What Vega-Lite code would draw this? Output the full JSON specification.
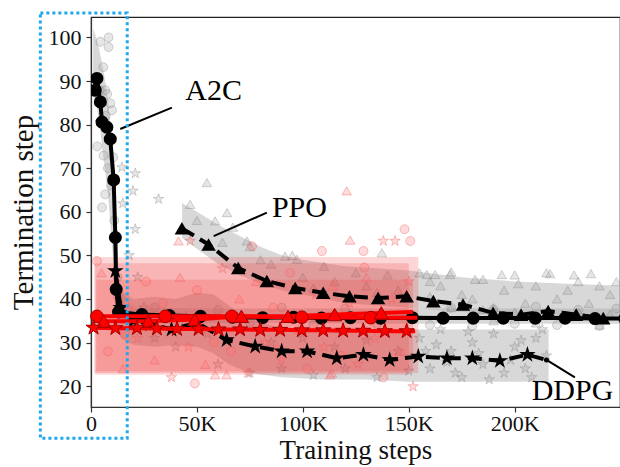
{
  "$schema": "https://vega.github.io/schema/vega-lite/v6.json",
  "width": 529,
  "height": 390,
  "autosize": {"type": "none"},
  "padding": {"left": 91, "top": 17, "right": 0, "bottom": 60},
  "background": "white",
  "config": {
    "view": {"stroke": "#222", "strokeWidth": 1.2},
    "axis": {
      "labelFont": "Liberation Serif", "labelFontSize": 22, "labelColor": "#111",
      "titleFont": "Liberation Serif", "titleFontSize": 29, "titleFontWeight": "normal", "titleColor": "#111",
      "domainColor": "#333", "domainWidth": 1.2, "tickColor": "#333", "tickSize": 5, "tickWidth": 1.2, "grid": false
    }
  },
  "datasets": {
    "bands": [
      {"alg": "A2C", "x": 1000, "y": 102, "y2": 87},
      {"alg": "A2C", "x": 2500, "y": 100, "y2": 85},
      {"alg": "A2C", "x": 4000, "y": 97, "y2": 80},
      {"alg": "A2C", "x": 6000, "y": 92, "y2": 72},
      {"alg": "A2C", "x": 8000, "y": 86, "y2": 64},
      {"alg": "A2C", "x": 10000, "y": 76, "y2": 52},
      {"alg": "A2C", "x": 11500, "y": 62, "y2": 42},
      {"alg": "A2C", "x": 13000, "y": 46, "y2": 36},
      {"alg": "A2C", "x": 15000, "y": 39, "y2": 35},
      {"alg": "A2C", "x": 20000, "y": 38, "y2": 35},
      {"alg": "A2C", "x": 60000, "y": 37.8, "y2": 34.5},
      {"alg": "A2C", "x": 150000, "y": 37.8, "y2": 34.3},
      {"alg": "A2C", "x": 252000, "y": 37.8, "y2": 34.3},
      {"alg": "PPO", "x": 43000, "y": 62, "y2": 54},
      {"alg": "PPO", "x": 50000, "y": 60, "y2": 51.5},
      {"alg": "PPO", "x": 60000, "y": 57, "y2": 48},
      {"alg": "PPO", "x": 70000, "y": 54.5, "y2": 45.5},
      {"alg": "PPO", "x": 80000, "y": 52, "y2": 43.5},
      {"alg": "PPO", "x": 90000, "y": 50, "y2": 42},
      {"alg": "PPO", "x": 100000, "y": 49, "y2": 41},
      {"alg": "PPO", "x": 120000, "y": 47.5, "y2": 39},
      {"alg": "PPO", "x": 150000, "y": 46.5, "y2": 38},
      {"alg": "PPO", "x": 175000, "y": 45, "y2": 37},
      {"alg": "PPO", "x": 200000, "y": 44, "y2": 36},
      {"alg": "PPO", "x": 225000, "y": 43.5, "y2": 35.5},
      {"alg": "PPO", "x": 252000, "y": 43, "y2": 35},
      {"alg": "DDPG", "x": 11500, "y": 48, "y2": 38},
      {"alg": "DDPG", "x": 14000, "y": 42, "y2": 31},
      {"alg": "DDPG", "x": 20000, "y": 40, "y2": 29.5},
      {"alg": "DDPG", "x": 30000, "y": 40.5, "y2": 29},
      {"alg": "DDPG", "x": 40000, "y": 40, "y2": 29.5},
      {"alg": "DDPG", "x": 50000, "y": 41.5, "y2": 29},
      {"alg": "DDPG", "x": 58000, "y": 41, "y2": 27.5},
      {"alg": "DDPG", "x": 65000, "y": 38.5, "y2": 25},
      {"alg": "DDPG", "x": 75000, "y": 35, "y2": 23},
      {"alg": "DDPG", "x": 90000, "y": 33.5, "y2": 22},
      {"alg": "DDPG", "x": 110000, "y": 33, "y2": 21.5},
      {"alg": "DDPG", "x": 130000, "y": 33, "y2": 21.5},
      {"alg": "DDPG", "x": 150000, "y": 33, "y2": 21},
      {"alg": "DDPG", "x": 180000, "y": 33, "y2": 21},
      {"alg": "DDPG", "x": 216000, "y": 33, "y2": 21}
    ],
    "redrects": [
      {"x": 1500, "x2": 154500, "y": 49.6, "y2": 23},
      {"x": 2000, "x2": 150000, "y": 48.2, "y2": 22.6},
      {"x": 2500, "x2": 152000, "y": 44.4, "y2": 23.4}
    ],
    "lines": [
      {"alg": "A2C", "x": 2000, "y": 87.9},
      {"alg": "A2C", "x": 2800, "y": 90.6},
      {"alg": "A2C", "x": 4400, "y": 85.2},
      {"alg": "A2C", "x": 5200, "y": 80.6},
      {"alg": "A2C", "x": 7500, "y": 79.4},
      {"alg": "A2C", "x": 9100, "y": 76.7},
      {"alg": "A2C", "x": 10700, "y": 67.3},
      {"alg": "A2C", "x": 11500, "y": 54.1},
      {"alg": "A2C", "x": 11900, "y": 42.2},
      {"alg": "A2C", "x": 13000, "y": 37},
      {"alg": "A2C", "x": 24000, "y": 36.4},
      {"alg": "A2C", "x": 37000, "y": 36.2},
      {"alg": "A2C", "x": 51700, "y": 36},
      {"alg": "A2C", "x": 66800, "y": 35.8},
      {"alg": "A2C", "x": 81000, "y": 35.7},
      {"alg": "A2C", "x": 95600, "y": 35.8},
      {"alg": "A2C", "x": 108800, "y": 35.6},
      {"alg": "A2C", "x": 122500, "y": 35.7},
      {"alg": "A2C", "x": 136600, "y": 35.6},
      {"alg": "A2C", "x": 151700, "y": 35.7},
      {"alg": "A2C", "x": 166200, "y": 35.6},
      {"alg": "A2C", "x": 180400, "y": 35.6},
      {"alg": "A2C", "x": 194600, "y": 35.6},
      {"alg": "A2C", "x": 209700, "y": 35.6},
      {"alg": "A2C", "x": 223800, "y": 35.6},
      {"alg": "A2C", "x": 237900, "y": 35.5},
      {"alg": "A2C", "x": 252000, "y": 35.5},
      {"alg": "PPO", "x": 42900, "y": 56.2},
      {"alg": "PPO", "x": 55500, "y": 52.5},
      {"alg": "PPO", "x": 69500, "y": 47.1},
      {"alg": "PPO", "x": 83000, "y": 44.1},
      {"alg": "PPO", "x": 96400, "y": 42.5},
      {"alg": "PPO", "x": 109600, "y": 41.4},
      {"alg": "PPO", "x": 122000, "y": 40.6},
      {"alg": "PPO", "x": 135500, "y": 40.2},
      {"alg": "PPO", "x": 149000, "y": 40.6},
      {"alg": "PPO", "x": 161600, "y": 39.5},
      {"alg": "PPO", "x": 175600, "y": 38.7},
      {"alg": "PPO", "x": 189800, "y": 36.8},
      {"alg": "PPO", "x": 203000, "y": 36.4},
      {"alg": "PPO", "x": 215800, "y": 37.2},
      {"alg": "PPO", "x": 229000, "y": 36.4},
      {"alg": "PPO", "x": 241800, "y": 35.6},
      {"alg": "DDPG", "x": 11500, "y": 46.4},
      {"alg": "DDPG", "x": 14000, "y": 38},
      {"alg": "DDPG", "x": 20000, "y": 35},
      {"alg": "DDPG", "x": 28000, "y": 34.2},
      {"alg": "DDPG", "x": 38000, "y": 33},
      {"alg": "DDPG", "x": 50000, "y": 34.5},
      {"alg": "DDPG", "x": 64000, "y": 30.6},
      {"alg": "DDPG", "x": 77500, "y": 29.1},
      {"alg": "DDPG", "x": 90000, "y": 28},
      {"alg": "DDPG", "x": 102000, "y": 28},
      {"alg": "DDPG", "x": 116000, "y": 26.4},
      {"alg": "DDPG", "x": 128600, "y": 27.2},
      {"alg": "DDPG", "x": 141000, "y": 26},
      {"alg": "DDPG", "x": 154500, "y": 26.8},
      {"alg": "DDPG", "x": 168000, "y": 26.4},
      {"alg": "DDPG", "x": 180000, "y": 26.4},
      {"alg": "DDPG", "x": 193000, "y": 25.8},
      {"alg": "DDPG", "x": 206000, "y": 27.2},
      {"alg": "DDPG", "x": 215000, "y": 26}
    ],
    "redlines": [
      {"alg": "A2C", "x": 2800, "y": 36},
      {"alg": "A2C", "x": 35000, "y": 36},
      {"alg": "A2C", "x": 66500, "y": 36},
      {"alg": "A2C", "x": 99500, "y": 35.8},
      {"alg": "A2C", "x": 132000, "y": 35.7},
      {"alg": "A2C", "x": 154000, "y": 35.7},
      {"alg": "PPO", "x": 6000, "y": 34.9},
      {"alg": "PPO", "x": 27000, "y": 34.9},
      {"alg": "PPO", "x": 49000, "y": 35.3},
      {"alg": "PPO", "x": 71000, "y": 36},
      {"alg": "PPO", "x": 93000, "y": 36},
      {"alg": "PPO", "x": 115000, "y": 36.4},
      {"alg": "PPO", "x": 137000, "y": 36.8},
      {"alg": "PPO", "x": 152000, "y": 37},
      {"alg": "DDPG", "x": 1200, "y": 33.4},
      {"alg": "DDPG", "x": 11500, "y": 33.3},
      {"alg": "DDPG", "x": 21700, "y": 33.3},
      {"alg": "DDPG", "x": 31100, "y": 33.2},
      {"alg": "DDPG", "x": 40600, "y": 33.1},
      {"alg": "DDPG", "x": 50800, "y": 33.1},
      {"alg": "DDPG", "x": 60200, "y": 33},
      {"alg": "DDPG", "x": 70400, "y": 33},
      {"alg": "DDPG", "x": 79900, "y": 32.9},
      {"alg": "DDPG", "x": 89300, "y": 32.9},
      {"alg": "DDPG", "x": 99500, "y": 32.8},
      {"alg": "DDPG", "x": 109600, "y": 32.8},
      {"alg": "DDPG", "x": 119000, "y": 32.7},
      {"alg": "DDPG", "x": 128500, "y": 32.7},
      {"alg": "DDPG", "x": 138700, "y": 32.6},
      {"alg": "DDPG", "x": 149000, "y": 32.6},
      {"alg": "DDPG", "x": 153000, "y": 32.6}
    ],
    "pts": [
      {"alg": "A2C", "grp": "base", "x": 4400, "y": 99},
      {"alg": "A2C", "grp": "base", "x": 8300, "y": 100},
      {"alg": "A2C", "grp": "base", "x": 8300, "y": 97.8},
      {"alg": "A2C", "grp": "base", "x": 5800, "y": 93.2},
      {"alg": "A2C", "grp": "base", "x": 6700, "y": 87.9},
      {"alg": "A2C", "grp": "base", "x": 9100, "y": 84.9},
      {"alg": "A2C", "grp": "base", "x": 9900, "y": 83.3},
      {"alg": "A2C", "grp": "base", "x": 7600, "y": 87},
      {"alg": "A2C", "grp": "base", "x": 5900, "y": 72.9},
      {"alg": "A2C", "grp": "base", "x": 10500, "y": 72.5},
      {"alg": "A2C", "grp": "base", "x": 6700, "y": 64},
      {"alg": "A2C", "grp": "base", "x": 5200, "y": 61},
      {"alg": "A2C", "grp": "base", "x": 8000, "y": 70},
      {"alg": "A2C", "grp": "base", "x": 9500, "y": 66},
      {"alg": "A2C", "grp": "base", "x": 3000, "y": 75},
      {"alg": "A2C", "grp": "base", "x": 11000, "y": 58},
      {"alg": "A2C", "grp": "base", "x": 12500, "y": 45},
      {"alg": "A2C", "grp": "base", "x": 14000, "y": 40},
      {"alg": "A2C", "grp": "base", "x": 7000, "y": 82},
      {"alg": "A2C", "grp": "base", "x": 4000, "y": 88},
      {"alg": "A2C", "grp": "base", "x": 30000, "y": 38},
      {"alg": "A2C", "grp": "base", "x": 45000, "y": 34},
      {"alg": "A2C", "grp": "base", "x": 60000, "y": 37.5},
      {"alg": "A2C", "grp": "base", "x": 75000, "y": 34.5},
      {"alg": "A2C", "grp": "base", "x": 90000, "y": 38},
      {"alg": "A2C", "grp": "base", "x": 105000, "y": 34},
      {"alg": "A2C", "grp": "base", "x": 120000, "y": 37.8},
      {"alg": "A2C", "grp": "base", "x": 135000, "y": 34.2},
      {"alg": "A2C", "grp": "base", "x": 160000, "y": 34},
      {"alg": "A2C", "grp": "base", "x": 170000, "y": 38},
      {"alg": "A2C", "grp": "base", "x": 180000, "y": 33.8},
      {"alg": "A2C", "grp": "base", "x": 190000, "y": 37.6},
      {"alg": "A2C", "grp": "base", "x": 200000, "y": 34.3},
      {"alg": "A2C", "grp": "base", "x": 210000, "y": 38.2},
      {"alg": "A2C", "grp": "base", "x": 220000, "y": 34},
      {"alg": "A2C", "grp": "base", "x": 230000, "y": 37.5},
      {"alg": "A2C", "grp": "base", "x": 240000, "y": 33.8},
      {"alg": "A2C", "grp": "base", "x": 248000, "y": 37.8},
      {"alg": "DDPG", "grp": "base", "x": 14600, "y": 70.2},
      {"alg": "DDPG", "grp": "base", "x": 20900, "y": 68.8},
      {"alg": "DDPG", "grp": "base", "x": 19800, "y": 64.8},
      {"alg": "DDPG", "grp": "base", "x": 31900, "y": 62.9},
      {"alg": "DDPG", "grp": "base", "x": 15000, "y": 61.9},
      {"alg": "DDPG", "grp": "base", "x": 20900, "y": 56},
      {"alg": "DDPG", "grp": "base", "x": 18000, "y": 50},
      {"alg": "DDPG", "grp": "base", "x": 22000, "y": 45},
      {"alg": "DDPG", "grp": "base", "x": 25000, "y": 38},
      {"alg": "DDPG", "grp": "base", "x": 30000, "y": 31},
      {"alg": "DDPG", "grp": "base", "x": 40000, "y": 29},
      {"alg": "DDPG", "grp": "base", "x": 45000, "y": 36},
      {"alg": "DDPG", "grp": "base", "x": 55000, "y": 32},
      {"alg": "DDPG", "grp": "base", "x": 60000, "y": 25},
      {"alg": "DDPG", "grp": "base", "x": 70000, "y": 33},
      {"alg": "DDPG", "grp": "base", "x": 75000, "y": 23},
      {"alg": "DDPG", "grp": "base", "x": 85000, "y": 30},
      {"alg": "DDPG", "grp": "base", "x": 90000, "y": 24},
      {"alg": "DDPG", "grp": "base", "x": 100000, "y": 31},
      {"alg": "DDPG", "grp": "base", "x": 105000, "y": 22.5},
      {"alg": "DDPG", "grp": "base", "x": 115000, "y": 29},
      {"alg": "DDPG", "grp": "base", "x": 120000, "y": 24},
      {"alg": "DDPG", "grp": "base", "x": 130000, "y": 30.5},
      {"alg": "DDPG", "grp": "base", "x": 135000, "y": 22},
      {"alg": "DDPG", "grp": "base", "x": 145000, "y": 28},
      {"alg": "DDPG", "grp": "base", "x": 150000, "y": 23.5},
      {"alg": "DDPG", "grp": "base", "x": 155000, "y": 31},
      {"alg": "DDPG", "grp": "base", "x": 160000, "y": 24},
      {"alg": "DDPG", "grp": "base", "x": 165000, "y": 33},
      {"alg": "DDPG", "grp": "base", "x": 170000, "y": 28},
      {"alg": "DDPG", "grp": "base", "x": 175000, "y": 22},
      {"alg": "DDPG", "grp": "base", "x": 180000, "y": 30},
      {"alg": "DDPG", "grp": "base", "x": 185000, "y": 25},
      {"alg": "DDPG", "grp": "base", "x": 190000, "y": 32},
      {"alg": "DDPG", "grp": "base", "x": 195000, "y": 23},
      {"alg": "DDPG", "grp": "base", "x": 200000, "y": 29},
      {"alg": "DDPG", "grp": "base", "x": 205000, "y": 24},
      {"alg": "DDPG", "grp": "base", "x": 210000, "y": 31},
      {"alg": "DDPG", "grp": "base", "x": 215000, "y": 27},
      {"alg": "DDPG", "grp": "base", "x": 158000, "y": 28},
      {"alg": "DDPG", "grp": "base", "x": 168000, "y": 25.5},
      {"alg": "DDPG", "grp": "base", "x": 178000, "y": 32.5},
      {"alg": "DDPG", "grp": "base", "x": 188000, "y": 21.5},
      {"alg": "DDPG", "grp": "base", "x": 198000, "y": 26},
      {"alg": "DDPG", "grp": "base", "x": 208000, "y": 22},
      {"alg": "DDPG", "grp": "base", "x": 213000, "y": 33},
      {"alg": "DDPG", "grp": "base", "x": 163000, "y": 29.5},
      {"alg": "DDPG", "grp": "base", "x": 183000, "y": 27.5},
      {"alg": "DDPG", "grp": "base", "x": 203000, "y": 30.5},
      {"alg": "DDPG", "grp": "base", "x": 172000, "y": 23},
      {"alg": "PPO", "grp": "base", "x": 54700, "y": 66.7},
      {"alg": "PPO", "grp": "base", "x": 46800, "y": 61.7},
      {"alg": "PPO", "grp": "base", "x": 64200, "y": 59.8},
      {"alg": "PPO", "grp": "base", "x": 58600, "y": 57.9},
      {"alg": "PPO", "grp": "base", "x": 73600, "y": 53.3},
      {"alg": "PPO", "grp": "base", "x": 91600, "y": 49.8},
      {"alg": "PPO", "grp": "base", "x": 97200, "y": 49.1},
      {"alg": "PPO", "grp": "base", "x": 137300, "y": 50.6},
      {"alg": "PPO", "grp": "base", "x": 50000, "y": 58},
      {"alg": "PPO", "grp": "base", "x": 62000, "y": 53},
      {"alg": "PPO", "grp": "base", "x": 67000, "y": 56.5},
      {"alg": "PPO", "grp": "base", "x": 80000, "y": 49},
      {"alg": "PPO", "grp": "base", "x": 75000, "y": 52},
      {"alg": "PPO", "grp": "base", "x": 85000, "y": 48},
      {"alg": "PPO", "grp": "base", "x": 95000, "y": 50},
      {"alg": "PPO", "grp": "base", "x": 100000, "y": 45},
      {"alg": "PPO", "grp": "base", "x": 110000, "y": 47.5},
      {"alg": "PPO", "grp": "base", "x": 115000, "y": 44},
      {"alg": "PPO", "grp": "base", "x": 125000, "y": 46},
      {"alg": "PPO", "grp": "base", "x": 130000, "y": 43},
      {"alg": "PPO", "grp": "base", "x": 140000, "y": 45.5},
      {"alg": "PPO", "grp": "base", "x": 145000, "y": 42},
      {"alg": "PPO", "grp": "base", "x": 105000, "y": 42.5},
      {"alg": "PPO", "grp": "base", "x": 135000, "y": 41.5},
      {"alg": "PPO", "grp": "base", "x": 158500, "y": 45.6},
      {"alg": "PPO", "grp": "base", "x": 162400, "y": 45.6},
      {"alg": "PPO", "grp": "base", "x": 169500, "y": 45.6},
      {"alg": "PPO", "grp": "base", "x": 181300, "y": 44.5},
      {"alg": "PPO", "grp": "base", "x": 193900, "y": 45.6},
      {"alg": "PPO", "grp": "base", "x": 201700, "y": 43.5},
      {"alg": "PPO", "grp": "base", "x": 216700, "y": 45.8},
      {"alg": "PPO", "grp": "base", "x": 155000, "y": 46},
      {"alg": "PPO", "grp": "base", "x": 160000, "y": 44},
      {"alg": "PPO", "grp": "base", "x": 165000, "y": 43},
      {"alg": "PPO", "grp": "base", "x": 170000, "y": 46.2},
      {"alg": "PPO", "grp": "base", "x": 175000, "y": 41},
      {"alg": "PPO", "grp": "base", "x": 180000, "y": 40},
      {"alg": "PPO", "grp": "base", "x": 185000, "y": 44.5},
      {"alg": "PPO", "grp": "base", "x": 190000, "y": 38},
      {"alg": "PPO", "grp": "base", "x": 195000, "y": 42},
      {"alg": "PPO", "grp": "base", "x": 200000, "y": 45.5},
      {"alg": "PPO", "grp": "base", "x": 205000, "y": 39},
      {"alg": "PPO", "grp": "base", "x": 210000, "y": 43},
      {"alg": "PPO", "grp": "base", "x": 215000, "y": 46},
      {"alg": "PPO", "grp": "base", "x": 220000, "y": 40},
      {"alg": "PPO", "grp": "base", "x": 225000, "y": 42},
      {"alg": "PPO", "grp": "base", "x": 230000, "y": 44},
      {"alg": "PPO", "grp": "base", "x": 235000, "y": 39},
      {"alg": "PPO", "grp": "base", "x": 240000, "y": 43},
      {"alg": "PPO", "grp": "base", "x": 245000, "y": 41},
      {"alg": "PPO", "grp": "base", "x": 160000, "y": 40.5},
      {"alg": "PPO", "grp": "base", "x": 170000, "y": 38},
      {"alg": "PPO", "grp": "base", "x": 185000, "y": 37.5},
      {"alg": "PPO", "grp": "base", "x": 200000, "y": 37},
      {"alg": "PPO", "grp": "base", "x": 215000, "y": 36.5},
      {"alg": "PPO", "grp": "base", "x": 230000, "y": 37},
      {"alg": "PPO", "grp": "base", "x": 245000, "y": 36.5},
      {"alg": "PPO", "grp": "base", "x": 165000, "y": 36},
      {"alg": "PPO", "grp": "base", "x": 190000, "y": 35},
      {"alg": "PPO", "grp": "base", "x": 210000, "y": 34.5},
      {"alg": "PPO", "grp": "base", "x": 240000, "y": 34},
      {"alg": "PPO", "grp": "base", "x": 228000, "y": 45.5},
      {"alg": "PPO", "grp": "base", "x": 236000, "y": 45.8},
      {"alg": "PPO", "grp": "base", "x": 248000, "y": 44},
      {"alg": "A2C", "grp": "red", "x": 148000, "y": 56},
      {"alg": "A2C", "grp": "red", "x": 150700, "y": 53.3},
      {"alg": "A2C", "grp": "red", "x": 109000, "y": 51},
      {"alg": "A2C", "grp": "red", "x": 128600, "y": 51},
      {"alg": "A2C", "grp": "red", "x": 129000, "y": 47.2},
      {"alg": "A2C", "grp": "red", "x": 49000, "y": 20.6},
      {"alg": "A2C", "grp": "red", "x": 2800, "y": 48.7},
      {"alg": "A2C", "grp": "red", "x": 76000, "y": 52.1},
      {"alg": "A2C", "grp": "red", "x": 8000, "y": 28},
      {"alg": "A2C", "grp": "red", "x": 26000, "y": 44},
      {"alg": "A2C", "grp": "red", "x": 34000, "y": 39},
      {"alg": "A2C", "grp": "red", "x": 50000, "y": 42},
      {"alg": "A2C", "grp": "red", "x": 66000, "y": 28},
      {"alg": "A2C", "grp": "red", "x": 86000, "y": 38},
      {"alg": "A2C", "grp": "red", "x": 102000, "y": 24},
      {"alg": "A2C", "grp": "red", "x": 118000, "y": 27},
      {"alg": "A2C", "grp": "red", "x": 138000, "y": 22},
      {"alg": "A2C", "grp": "red", "x": 16000, "y": 32},
      {"alg": "A2C", "grp": "red", "x": 58000, "y": 30},
      {"alg": "A2C", "grp": "red", "x": 94000, "y": 46},
      {"alg": "PPO", "grp": "red", "x": 120700, "y": 64.8},
      {"alg": "PPO", "grp": "red", "x": 122300, "y": 53.5},
      {"alg": "PPO", "grp": "red", "x": 113700, "y": 23},
      {"alg": "PPO", "grp": "red", "x": 58600, "y": 22.6},
      {"alg": "PPO", "grp": "red", "x": 64000, "y": 22.6},
      {"alg": "PPO", "grp": "red", "x": 112800, "y": 22.6},
      {"alg": "PPO", "grp": "red", "x": 41300, "y": 53.3},
      {"alg": "PPO", "grp": "red", "x": 5000, "y": 46},
      {"alg": "PPO", "grp": "red", "x": 15000, "y": 24},
      {"alg": "PPO", "grp": "red", "x": 30000, "y": 26},
      {"alg": "PPO", "grp": "red", "x": 42000, "y": 45},
      {"alg": "PPO", "grp": "red", "x": 54000, "y": 25},
      {"alg": "PPO", "grp": "red", "x": 70000, "y": 40},
      {"alg": "PPO", "grp": "red", "x": 78000, "y": 44},
      {"alg": "PPO", "grp": "red", "x": 98000, "y": 33},
      {"alg": "PPO", "grp": "red", "x": 114000, "y": 43},
      {"alg": "PPO", "grp": "red", "x": 130000, "y": 45},
      {"alg": "PPO", "grp": "red", "x": 146000, "y": 28},
      {"alg": "PPO", "grp": "red", "x": 20000, "y": 36},
      {"alg": "PPO", "grp": "red", "x": 88000, "y": 29},
      {"alg": "DDPG", "grp": "red", "x": 138000, "y": 53.3},
      {"alg": "DDPG", "grp": "red", "x": 143500, "y": 53.3},
      {"alg": "DDPG", "grp": "red", "x": 152000, "y": 19.9},
      {"alg": "DDPG", "grp": "red", "x": 46800, "y": 53.3},
      {"alg": "DDPG", "grp": "red", "x": 12000, "y": 41},
      {"alg": "DDPG", "grp": "red", "x": 18000, "y": 38},
      {"alg": "DDPG", "grp": "red", "x": 22000, "y": 31},
      {"alg": "DDPG", "grp": "red", "x": 38000, "y": 22},
      {"alg": "DDPG", "grp": "red", "x": 46000, "y": 29},
      {"alg": "DDPG", "grp": "red", "x": 62000, "y": 47},
      {"alg": "DDPG", "grp": "red", "x": 74000, "y": 23},
      {"alg": "DDPG", "grp": "red", "x": 82000, "y": 30},
      {"alg": "DDPG", "grp": "red", "x": 90000, "y": 26},
      {"alg": "DDPG", "grp": "red", "x": 106000, "y": 41},
      {"alg": "DDPG", "grp": "red", "x": 110000, "y": 29},
      {"alg": "DDPG", "grp": "red", "x": 122000, "y": 39},
      {"alg": "DDPG", "grp": "red", "x": 126000, "y": 25},
      {"alg": "DDPG", "grp": "red", "x": 134000, "y": 31},
      {"alg": "DDPG", "grp": "red", "x": 142000, "y": 40},
      {"alg": "DDPG", "grp": "red", "x": 150000, "y": 44}
    ],
    "annot": [
      {"label": "A2C", "x": 13800, "y": 79.0, "x2": 38200, "y2": 83.9, "tx": 44500, "ty": 85.6},
      {"label": "PPO", "x": 57900, "y": 54.4, "x2": 83000, "y2": 59.8, "tx": 85400, "ty": 58.7},
      {"label": "DDPG", "x": 215000, "y": 26.0, "x2": 228400, "y2": 22.0, "tx": 208000, "ty": 16.8}
    ],
    "box": [
      {"x": -23900, "x2": 17100, "y": 105.6, "y2": 8.0}
    ]
  },
  "layer": [
    {
      "data": {"name": "bands"},
      "mark": {"type": "area", "color": "#a8a8a8", "opacity": 0.45, "clip": true},
      "encoding": {
        "x": {"field": "x", "type": "quantitative", "scale": {"domain": [0, 249700], "nice": false, "zero": false},
              "axis": {"orient": "bottom", "values": [0, 50000, 100000, 150000, 200000], "labelExpr": "datum.value == 0 ? '0' : (datum.value / 1000) + 'K'", "title": "Training steps", "titleFontSize": 27, "labelPadding": 1, "titlePadding": 3, "labelFlush": false}},
        "y": {"field": "y", "type": "quantitative", "scale": {"domain": [15.2, 104.7], "nice": false, "zero": false},
              "axis": {"orient": "left", "values": [20, 30, 40, 50, 60, 70, 80, 90, 100], "title": "Termination step", "labelPadding": 5, "titlePadding": 10}},
        "y2": {"field": "y2"},
        "detail": {"field": "alg", "type": "nominal"}
      }
    },
    {
      "data": {"name": "pts"},
      "transform": [{"filter": "datum.grp == 'base' && datum.alg == 'A2C'"}],
      "mark": {"type": "point", "shape": "circle", "filled": true, "fill": "#9a9a9a", "fillOpacity": 0.25, "stroke": "#808080", "strokeOpacity": 0.35, "strokeWidth": 1, "size": 80, "clip": true},
      "encoding": {
        "x": {"field": "x", "type": "quantitative", "scale": {"domain": [0, 249700], "nice": false, "zero": false}},
        "y": {"field": "y", "type": "quantitative", "scale": {"domain": [15.2, 104.7], "nice": false, "zero": false}}
      }
    },
    {
      "data": {"name": "pts"},
      "transform": [{"filter": "datum.grp == 'base' && datum.alg == 'PPO'"}],
      "mark": {"type": "point", "shape": "triangle-up", "filled": true, "fill": "#9a9a9a", "fillOpacity": 0.25, "stroke": "#808080", "strokeOpacity": 0.35, "strokeWidth": 1, "size": 90, "clip": true},
      "encoding": {
        "x": {"field": "x", "type": "quantitative", "scale": {"domain": [0, 249700], "nice": false, "zero": false}},
        "y": {"field": "y", "type": "quantitative", "scale": {"domain": [15.2, 104.7], "nice": false, "zero": false}}
      }
    },
    {
      "data": {"name": "pts"},
      "transform": [{"filter": "datum.grp == 'base' && datum.alg == 'DDPG'"}],
      "mark": {"type": "point", "shape": "M0,-1L0.225,-0.309L0.951,-0.309L0.363,0.118L0.588,0.809L0,0.382L-0.588,0.809L-0.363,0.118L-0.951,-0.309L-0.225,-0.309Z", "filled": true, "fill": "#9a9a9a", "fillOpacity": 0.25, "stroke": "#808080", "strokeOpacity": 0.35, "strokeWidth": 1, "size": 120, "clip": true},
      "encoding": {
        "x": {"field": "x", "type": "quantitative", "scale": {"domain": [0, 249700], "nice": false, "zero": false}},
        "y": {"field": "y", "type": "quantitative", "scale": {"domain": [15.2, 104.7], "nice": false, "zero": false}}
      }
    },
    {
      "data": {"name": "redrects"},
      "mark": {"type": "rect", "color": "#ee3030", "opacity": 0.2},
      "encoding": {
        "x": {"field": "x", "type": "quantitative", "scale": {"domain": [0, 249700], "nice": false, "zero": false}},
        "x2": {"field": "x2"},
        "y": {"field": "y", "type": "quantitative", "scale": {"domain": [15.2, 104.7], "nice": false, "zero": false}},
        "y2": {"field": "y2"}
      }
    },
    {
      "data": {"name": "pts"},
      "transform": [{"filter": "datum.grp == 'red' && datum.alg == 'A2C'"}],
      "mark": {"type": "point", "shape": "circle", "filled": true, "fill": "#ff7070", "fillOpacity": 0.25, "stroke": "#f06060", "strokeOpacity": 0.4, "strokeWidth": 1, "size": 80, "clip": true},
      "encoding": {
        "x": {"field": "x", "type": "quantitative", "scale": {"domain": [0, 249700], "nice": false, "zero": false}},
        "y": {"field": "y", "type": "quantitative", "scale": {"domain": [15.2, 104.7], "nice": false, "zero": false}}
      }
    },
    {
      "data": {"name": "pts"},
      "transform": [{"filter": "datum.grp == 'red' && datum.alg == 'PPO'"}],
      "mark": {"type": "point", "shape": "triangle-up", "filled": true, "fill": "#ff7070", "fillOpacity": 0.25, "stroke": "#f06060", "strokeOpacity": 0.4, "strokeWidth": 1, "size": 90, "clip": true},
      "encoding": {
        "x": {"field": "x", "type": "quantitative", "scale": {"domain": [0, 249700], "nice": false, "zero": false}},
        "y": {"field": "y", "type": "quantitative", "scale": {"domain": [15.2, 104.7], "nice": false, "zero": false}}
      }
    },
    {
      "data": {"name": "pts"},
      "transform": [{"filter": "datum.grp == 'red' && datum.alg == 'DDPG'"}],
      "mark": {"type": "point", "shape": "M0,-1L0.225,-0.309L0.951,-0.309L0.363,0.118L0.588,0.809L0,0.382L-0.588,0.809L-0.363,0.118L-0.951,-0.309L-0.225,-0.309Z", "filled": true, "fill": "#ff7070", "fillOpacity": 0.25, "stroke": "#f06060", "strokeOpacity": 0.4, "strokeWidth": 1, "size": 120, "clip": true},
      "encoding": {
        "x": {"field": "x", "type": "quantitative", "scale": {"domain": [0, 249700], "nice": false, "zero": false}},
        "y": {"field": "y", "type": "quantitative", "scale": {"domain": [15.2, 104.7], "nice": false, "zero": false}}
      }
    },
    {
      "data": {"name": "lines"},
      "transform": [{"filter": "datum.alg == 'A2C'"}],
      "mark": {"type": "line", "color": "black", "strokeWidth": 4, "clip": true},
      "encoding": {
        "x": {"field": "x", "type": "quantitative", "scale": {"domain": [0, 249700], "nice": false, "zero": false}},
        "y": {"field": "y", "type": "quantitative", "scale": {"domain": [15.2, 104.7], "nice": false, "zero": false}}
      }
    },
    {
      "data": {"name": "lines"},
      "transform": [{"filter": "datum.alg != 'A2C'"}],
      "mark": {"type": "line", "color": "black", "strokeWidth": 4, "strokeDash": [14, 7], "clip": true},
      "encoding": {
        "x": {"field": "x", "type": "quantitative", "scale": {"domain": [0, 249700], "nice": false, "zero": false}},
        "y": {"field": "y", "type": "quantitative", "scale": {"domain": [15.2, 104.7], "nice": false, "zero": false}},
        "detail": {"field": "alg", "type": "nominal"}
      }
    },
    {
      "data": {"name": "lines"},
      "transform": [{"filter": "datum.alg == 'A2C'"}],
      "mark": {"type": "point", "shape": "circle", "filled": true, "color": "black", "opacity": 1, "size": 170, "clip": true},
      "encoding": {
        "x": {"field": "x", "type": "quantitative", "scale": {"domain": [0, 249700], "nice": false, "zero": false}},
        "y": {"field": "y", "type": "quantitative", "scale": {"domain": [15.2, 104.7], "nice": false, "zero": false}}
      }
    },
    {
      "data": {"name": "lines"},
      "transform": [{"filter": "datum.alg == 'PPO'"}],
      "mark": {"type": "point", "shape": "triangle-up", "filled": true, "color": "black", "opacity": 1, "size": 210, "clip": true},
      "encoding": {
        "x": {"field": "x", "type": "quantitative", "scale": {"domain": [0, 249700], "nice": false, "zero": false}},
        "y": {"field": "y", "type": "quantitative", "scale": {"domain": [15.2, 104.7], "nice": false, "zero": false}}
      }
    },
    {
      "data": {"name": "lines"},
      "transform": [{"filter": "datum.alg == 'DDPG' && datum.x < 214000"}],
      "mark": {"type": "point", "shape": "M0,-1L0.225,-0.309L0.951,-0.309L0.363,0.118L0.588,0.809L0,0.382L-0.588,0.809L-0.363,0.118L-0.951,-0.309L-0.225,-0.309Z", "filled": true, "color": "black", "opacity": 1, "size": 300, "clip": true},
      "encoding": {
        "x": {"field": "x", "type": "quantitative", "scale": {"domain": [0, 249700], "nice": false, "zero": false}},
        "y": {"field": "y", "type": "quantitative", "scale": {"domain": [15.2, 104.7], "nice": false, "zero": false}}
      }
    },
    {
      "data": {"name": "lines"},
      "transform": [{"filter": "datum.alg == 'DDPG' && datum.x > 214000"}],
      "mark": {"type": "point", "shape": "circle", "filled": true, "color": "black", "opacity": 1, "size": 25},
      "encoding": {
        "x": {"field": "x", "type": "quantitative", "scale": {"domain": [0, 249700], "nice": false, "zero": false}},
        "y": {"field": "y", "type": "quantitative", "scale": {"domain": [15.2, 104.7], "nice": false, "zero": false}}
      }
    },
    {
      "data": {"name": "redlines"},
      "mark": {"type": "line", "color": "#ff0000", "strokeWidth": 4},
      "encoding": {
        "x": {"field": "x", "type": "quantitative", "scale": {"domain": [0, 249700], "nice": false, "zero": false}},
        "y": {"field": "y", "type": "quantitative", "scale": {"domain": [15.2, 104.7], "nice": false, "zero": false}},
        "detail": {"field": "alg", "type": "nominal"}
      }
    },
    {
      "data": {"name": "redlines"},
      "transform": [{"filter": "datum.alg == 'A2C' && datum.x < 150500"}],
      "mark": {"type": "point", "shape": "circle", "filled": true, "fill": "#ff0000", "stroke": "#a00000", "strokeWidth": 1, "opacity": 1, "size": 160},
      "encoding": {
        "x": {"field": "x", "type": "quantitative", "scale": {"domain": [0, 249700], "nice": false, "zero": false}},
        "y": {"field": "y", "type": "quantitative", "scale": {"domain": [15.2, 104.7], "nice": false, "zero": false}}
      }
    },
    {
      "data": {"name": "redlines"},
      "transform": [{"filter": "datum.alg == 'PPO' && datum.x < 150500"}],
      "mark": {"type": "point", "shape": "triangle-up", "filled": true, "fill": "#ff0000", "stroke": "#a00000", "strokeWidth": 1, "opacity": 1, "size": 200},
      "encoding": {
        "x": {"field": "x", "type": "quantitative", "scale": {"domain": [0, 249700], "nice": false, "zero": false}},
        "y": {"field": "y", "type": "quantitative", "scale": {"domain": [15.2, 104.7], "nice": false, "zero": false}}
      }
    },
    {
      "data": {"name": "redlines"},
      "transform": [{"filter": "datum.alg == 'DDPG' && datum.x < 150500"}],
      "mark": {"type": "point", "shape": "M0,-1L0.225,-0.309L0.951,-0.309L0.363,0.118L0.588,0.809L0,0.382L-0.588,0.809L-0.363,0.118L-0.951,-0.309L-0.225,-0.309Z", "filled": true, "fill": "#ff0000", "stroke": "#a00000", "strokeWidth": 1, "opacity": 1, "size": 250},
      "encoding": {
        "x": {"field": "x", "type": "quantitative", "scale": {"domain": [0, 249700], "nice": false, "zero": false}},
        "y": {"field": "y", "type": "quantitative", "scale": {"domain": [15.2, 104.7], "nice": false, "zero": false}}
      }
    },
    {
      "data": {"name": "annot"},
      "mark": {"type": "rule", "color": "black", "strokeWidth": 2},
      "encoding": {
        "x": {"field": "x", "type": "quantitative", "scale": {"domain": [0, 249700], "nice": false, "zero": false}},
        "x2": {"field": "x2"},
        "y": {"field": "y", "type": "quantitative", "scale": {"domain": [15.2, 104.7], "nice": false, "zero": false}},
        "y2": {"field": "y2"}
      }
    },
    {
      "data": {"name": "annot"},
      "mark": {"type": "text", "font": "Liberation Serif", "fontSize": 30, "align": "left", "baseline": "alphabetic", "color": "black"},
      "encoding": {
        "x": {"field": "tx", "type": "quantitative", "scale": {"domain": [0, 249700], "nice": false, "zero": false}},
        "y": {"field": "ty", "type": "quantitative", "scale": {"domain": [15.2, 104.7], "nice": false, "zero": false}},
        "text": {"field": "label", "type": "nominal"}
      }
    },
    {
      "data": {"name": "box"},
      "mark": {"type": "rect", "filled": false, "stroke": "#1ea7ec", "strokeWidth": 3, "strokeDash": [3, 3], "clip": false},
      "encoding": {
        "x": {"field": "x", "type": "quantitative", "scale": {"domain": [0, 249700], "nice": false, "zero": false}},
        "x2": {"field": "x2"},
        "y": {"field": "y", "type": "quantitative", "scale": {"domain": [15.2, 104.7], "nice": false, "zero": false}},
        "y2": {"field": "y2"}
      }
    }
  ]
}
